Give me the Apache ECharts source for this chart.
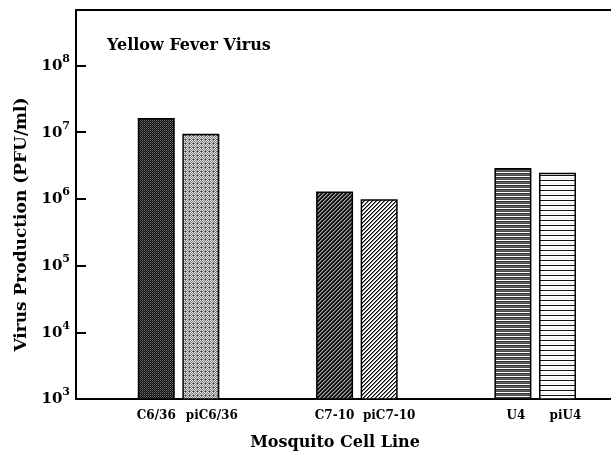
<!DOCTYPE html>
<html>
<head>
<meta charset="utf-8">
<script src="https://cdn.jsdelivr.net/npm/echarts@6/dist/echarts.min.js"></script>
<style>html,body{margin:0;padding:0;background:#fff}#c{width:611px;height:456px}</style>
</head>
<body>
<div id="c"></div>
<script>
// ---- data ----
var categories = ['C6/36', 'piC6/36', '', '', 'C7-10', 'piC7-10', '', '', 'U4', 'piU4'];
var virusTiter = [1.63e7, 9.5e6, null, null, 1.29e6, 9.9e5, null, null, 2.92e6, 2.46e6];
var yTickExponents = [3, 4, 5, 6, 7, 8];
var chartTitle = 'Yellow Fever Virus';
var yName = 'Virus Production (PFU/ml)';
var xName = 'Mosquito Cell Line';

// ---- patterns / styles ----
function tile(w, h, fn) {
  var c = document.createElement('canvas');
  c.width = w; c.height = h;
  var ctx = c.getContext('2d');
  for (var y = 0; y < h; y++) for (var x = 0; x < w; x++) {
    ctx.fillStyle = fn(x, y); ctx.fillRect(x, y, 1, 1);
  }
  return { image: c, repeat: 'repeat' };
}
var patterns = {
  'C6/36': tile(4, 4, function (x, y) {
    if ((x + y) % 2 === 0 && x % 2 === 0) return '#707070';
    if ((x + y) % 2 === 0) return '#444';
    return '#0e0e0e';
  }),
  'piC6/36': tile(4, 4, function (x, y) {
    if (x === 1 && y === 3) return '#333';
    return (x + y) % 2 === 0 ? '#e4e4e4' : '#7a7a7a';
  }),
  'C7-10': tile(4, 4, function (x, y) {
    var k = (x + y) % 4;
    return k === 0 ? '#aaa' : (k === 1 ? '#555' : '#111');
  }),
  'piC7-10': tile(4, 4, function (x, y) {
    var k = (x + y) % 4;
    return k === 0 ? '#000' : (k === 1 ? '#777' : '#fff');
  }),
  'U4': tile(4, 4, function (x, y) {
    return ['#fff', '#333', '#666', '#4a4a4a'][y];
  }),
  'piU4': tile(4, 5, function (x, y) {
    return ['#111', '#fff', '#fff', '#eee', '#fff'][y];
  })
};
var labelShift = { 'piC6/36': 11, 'piC7-10': 10, 'U4': 3, 'piU4': 8 };

var serif = 'DejaVu Serif';
var barData = [];
categories.forEach(function (c, i) {
  if (virusTiter[i] == null) return;
  barData.push({
    name: c,
    value: [i, virusTiter[i]],
    itemStyle: { color: patterns[c], borderColor: '#000', borderWidth: 1.5 },
    label: { offset: [labelShift[c] || 0, 0] }
  });
});

var chart = echarts.init(document.getElementById('c'), null, { renderer: 'canvas' });
chart.setOption({
  animation: false,
  backgroundColor: '#fff',
  title: {
    text: chartTitle, left: 107, top: 38, padding: 0,
    textStyle: { fontFamily: serif, fontSize: 16, fontWeight: 'bold', color: '#000' }
  },
  grid: { left: 76, right: 0, top: 10, bottom: 55, containLabel: false },
  xAxis: [{
    type: 'value', min: -1.8, max: 10.2, position: 'bottom',
    axisLine: { show: true, onZero: false, lineStyle: { color: '#000', width: 2 } },
    axisTick: { show: false }, axisLabel: { show: false }, splitLine: { show: false },
    name: xName, nameLocation: 'middle', nameGap: 36,
    nameTextStyle: { fontFamily: serif, fontSize: 16, fontWeight: 'bold', color: '#000', padding: [0, 17, 0, 0] }
  }, {
    type: 'value', min: -1.8, max: 10.2, position: 'top',
    axisLine: { show: true, onZero: false, lineStyle: { color: '#000', width: 2 } },
    axisTick: { show: false }, axisLabel: { show: false }, splitLine: { show: false }
  }],
  yAxis: {
    type: 'log', logBase: 10, min: Math.pow(10, yTickExponents[0]), max: 6.8e8,
    axisLine: { show: true, onZero: false, lineStyle: { color: '#000', width: 2 } },
    axisTick: { show: true, inside: true, length: 10, lineStyle: { color: '#000', width: 2 } },
    splitLine: { show: false },
    axisLabel: {
      margin: 6,
      formatter: function (v) {
        var l = Math.log10(v), e = Math.round(l);
        if (Math.abs(l - e) > 1e-6 || yTickExponents.indexOf(e) < 0) return '';
        return '{b|10}{s|' + e + '}';
      },
      rich: {
        b: { fontFamily: serif, fontSize: 15, fontWeight: 'bold', color: '#000', verticalAlign: 'bottom', lineHeight: 16 },
        s: { fontFamily: serif, fontSize: 11, fontWeight: 'bold', color: '#000', verticalAlign: 'bottom', lineHeight: 11, padding: [0, 0, 9, 0] }
      }
    },
    name: yName, nameLocation: 'middle', nameGap: 46, nameRotate: 90,
    nameTextStyle: { fontFamily: serif, fontSize: 17, fontWeight: 'bold', color: '#000', padding: [0, 40, 0, 0] }
  },
  series: [{
    type: 'bar', xAxisIndex: 0, yAxisIndex: 0, barWidth: 37,
    data: barData,
    label: {
      show: true, position: 'bottom', distance: 10, formatter: '{b}',
      fontFamily: serif, fontSize: 12, fontWeight: 'bold', color: '#000'
    }
  }]
});
</script>
</body>
</html>
